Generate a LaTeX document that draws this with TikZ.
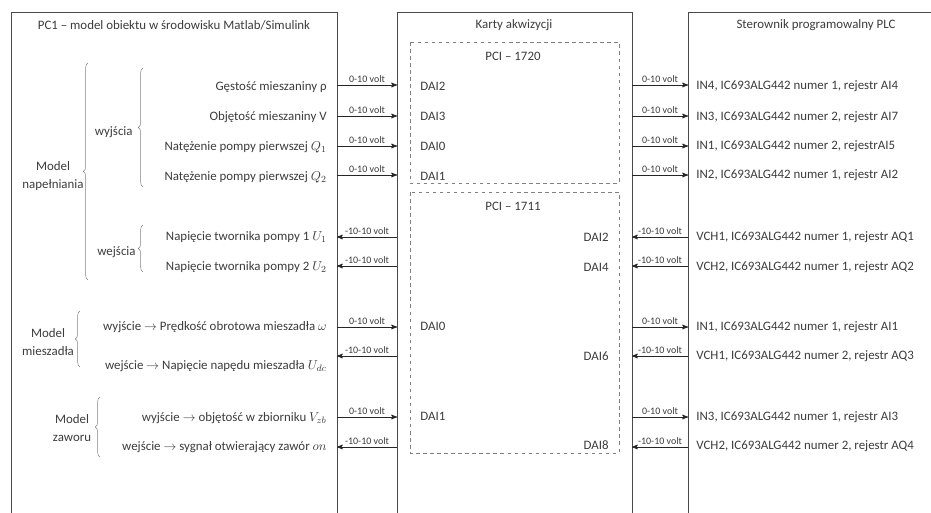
\documentclass[tikz,border=0pt]{standalone}
\usepackage{fontspec}
\setmainfont{Carlito}
\usepackage{tikz}
\usetikzlibrary{arrows, decorations.pathreplacing}
\definecolor{txt}{HTML}{3C3C3C}
\definecolor{frm}{HTML}{4A4A4A}

\begin{document}
\begin{tikzpicture}[x=0.03cm, y=-0.03cm, >=stealth',
        lbl/.style={font=\fontsize{11}{16}\selectfont, text=txt, inner sep=1pt},
        volt/.style={font=\fontsize{8.5}{10}\selectfont, text=txt, midway, above, inner sep=2pt},
        sig/.style={draw=black!85, line width=0.8pt},
        frame/.style={draw=frm, line width=0.6pt},
        card/.style={draw=gray, dashed, line width=0.6pt},
        brc/.style={draw=gray, thin, decorate, decoration={brace, amplitude=4pt}}]
        \useasboundingbox (0,0) rectangle (931,513);

        % three blocks
        \draw[frame] (11,513) -- (11,12) -- (337,12) -- (337,513);
        \draw[frame] (397,513) -- (397,12) -- (632,12) -- (632,513);
        \draw[frame] (688,513) -- (688,12) -- (931,12);
        \node[lbl] (pc) at (174,25) {PC1 -- model obiektu w środowisku Matlab/Simulink};
        \node[lbl] (karty) at (514,25) {Karty akwizycji};
        \node[lbl] (plc) at (816,25) {Sterownik programowalny PLC};

        % acquisition cards
        \draw[card] (410,42) rectangle (619,183);
        \draw[card] (410,192) rectangle (619,453);
        \node[lbl] (pci1720) at (513,56) {PCI -- 1720};
        \node[lbl] (pci1711) at (513,206) {PCI -- 1711};

        % model side
        \node[lbl, anchor=east] (gest) at (328,87) {Gęstość mieszaniny ρ};
        \node[lbl, anchor=east] (obj) at (328,117) {Objętość mieszaniny V};
        \node[lbl, anchor=east] (q1) at (328,147) {Natężenie pompy pierwszej $Q_1$};
        \node[lbl, anchor=east] (q2) at (328,177) {Natężenie pompy pierwszej $Q_2$};
        \node[lbl, anchor=east] (u1) at (328,237) {Napięcie twornika pompy 1 $U_1$};
        \node[lbl, anchor=east] (u2) at (328,267) {Napięcie twornika pompy 2 $U_2$};
        \node[lbl, anchor=east] (omega) at (328,327) {wyjście $\rightarrow$ Prędkość obrotowa mieszadła $\omega$};
        \node[lbl, anchor=east] (udc) at (328,366) {wejście $\rightarrow$ Napięcie napędu mieszadła $U_{dc}$};
        \node[lbl, anchor=east] (vzb) at (328,418) {wyjście $\rightarrow$ objętość w zbiorniku $V_{zb}$};
        \node[lbl, anchor=east] (on) at (328,447) {wejście $\rightarrow$ sygnał otwierający zawór $on$};

        \node[lbl, align=center] (napel) at (53,176) {Model\\napełniania};
        \node[lbl, anchor=east] (wyj) at (134,132) {wyjścia};
        \node[lbl, anchor=east] (wej) at (137,252) {wejścia};
        \node[lbl, align=center] (miesz) at (48,342) {Model\\mieszadła};
        \node[lbl, align=center] (zaw) at (72,428) {Model\\zaworu};

        \draw[brc] (88,280) -- (88,63);
        \draw[brc] (143,187) -- (143,68);
        \draw[brc] (143,272) -- (143,225);
        \draw[brc] (80,367) -- (80,311);
        \draw[brc] (100,457) -- (100,397);

        % card channels
        \node[lbl, anchor=west] (k1) at (419,86) {DAI2};
        \node[lbl, anchor=west] (k2) at (419,116) {DAI3};
        \node[lbl, anchor=west] (k3) at (419,146) {DAI0};
        \node[lbl, anchor=west] (k4) at (419,176) {DAI1};
        \node[lbl, anchor=east] (k5) at (610,237) {DAI2};
        \node[lbl, anchor=east] (k6) at (610,267) {DAI4};
        \node[lbl, anchor=west] (k7) at (419,326) {DAI0};
        \node[lbl, anchor=east] (k8) at (610,356) {DAI6};
        \node[lbl, anchor=west] (k9) at (419,416) {DAI1};
        \node[lbl, anchor=east] (k10) at (610,445) {DAI8};

        % PLC registers
        \node[lbl, anchor=west] (p1) at (695,86) {IN4, IC693ALG442 numer 1, rejestr AI4};
        \node[lbl, anchor=west] (p2) at (695,117) {IN3, IC693ALG442 numer 2, rejestr AI7};
        \node[lbl, anchor=west] (p3) at (695,146) {IN1, IC693ALG442 numer 2, rejestrAI5};
        \node[lbl, anchor=west] (p4) at (695,175) {IN2, IC693ALG442 numer 1, rejestr AI2};
        \node[lbl, anchor=west] (p5) at (695,237) {VCH1, IC693ALG442 numer 1, rejestr AQ1};
        \node[lbl, anchor=west] (p6) at (695,267) {VCH2, IC693ALG442 numer 1, rejestr AQ2};
        \node[lbl, anchor=west] (p7) at (695,327) {IN1, IC693ALG442 numer 1, rejestr AI1};
        \node[lbl, anchor=west] (p8) at (695,356) {VCH1, IC693ALG442 numer 2, rejestr AQ3};
        \node[lbl, anchor=west] (p9) at (695,417) {IN3, IC693ALG442 numer 1, rejestr AI3};
        \node[lbl, anchor=west] (p10) at (695,446) {VCH2, IC693ALG442 numer 2, rejestr AQ4};

        % edge points of the signal lines
        \coordinate (a1) at (337,85);  \coordinate (b1) at (397,85);  \coordinate (c1) at (632,85);  \coordinate (d1) at (688,85);
        \coordinate (a2) at (337,116); \coordinate (b2) at (397,116); \coordinate (c2) at (632,116); \coordinate (d2) at (688,116);
        \coordinate (a3) at (337,146); \coordinate (b3) at (397,146); \coordinate (c3) at (632,146); \coordinate (d3) at (688,146);
        \coordinate (a4) at (337,175); \coordinate (b4) at (397,175); \coordinate (c4) at (632,175); \coordinate (d4) at (688,175);
        \coordinate (a5) at (337,237); \coordinate (b5) at (397,237); \coordinate (c5) at (632,237); \coordinate (d5) at (688,237);
        \coordinate (a6) at (337,266); \coordinate (b6) at (397,266); \coordinate (c6) at (632,266); \coordinate (d6) at (688,266);
        \coordinate (a7) at (337,327); \coordinate (b7) at (397,327); \coordinate (c7) at (632,327); \coordinate (d7) at (688,327);
        \coordinate (a8) at (337,356); \coordinate (b8) at (397,356); \coordinate (c8) at (632,356); \coordinate (d8) at (688,356);
        \coordinate (a9) at (337,417); \coordinate (b9) at (397,417); \coordinate (c9) at (632,417); \coordinate (d9) at (688,417);
        \coordinate (a10) at (337,447); \coordinate (b10) at (397,447); \coordinate (c10) at (632,447); \coordinate (d10) at (688,447);

        % outputs of the model
        \draw[sig,->] (a1) -- (b1) node[volt] (va1) {0-10 volt};
        \draw[sig,->] (c1) -- (d1) node[volt] (vc1) {0-10 volt};
        \draw[sig,->] (a2) -- (b2) node[volt] (va2) {0-10 volt};
        \draw[sig,->] (c2) -- (d2) node[volt] (vc2) {0-10 volt};
        \draw[sig,->] (a3) -- (b3) node[volt] (va3) {0-10 volt};
        \draw[sig,->] (c3) -- (d3) node[volt] (vc3) {0-10 volt};
        \draw[sig,->] (a4) -- (b4) node[volt] (va4) {0-10 volt};
        \draw[sig,->] (c4) -- (d4) node[volt] (vc4) {0-10 volt};
        \draw[sig,->] (a7) -- (b7) node[volt] (va7) {0-10 volt};
        \draw[sig,->] (c7) -- (d7) node[volt] (vc7) {0-10 volt};
        \draw[sig,->] (a9) -- (b9) node[volt] (va9) {0-10 volt};
        \draw[sig,->] (c9) -- (d9) node[volt] (vc9) {0-10 volt};

        % inputs of the model
        \draw[sig,<-] (a5) -- (b5) node[volt] (va5) {-10-10 volt};
        \draw[sig,<-] (c5) -- (d5) node[volt] (vc5) {-10-10 volt};
        \draw[sig,<-] (a6) -- (b6) node[volt] (va6) {-10-10 volt};
        \draw[sig,<-] (c6) -- (d6) node[volt] (vc6) {-10-10 volt};
        \draw[sig,<-] (a8) -- (b8) node[volt] (va8) {-10-10 volt};
        \draw[sig,<-] (c8) -- (d8) node[volt] (vc8) {-10-10 volt};
        \draw[sig,<-] (a10) -- (b10) node[volt] (va10) {-10-10 volt};
        \draw[sig,<-] (c10) -- (d10) node[volt] (vc10) {-10-10 volt};
\end{tikzpicture}
\end{document}
